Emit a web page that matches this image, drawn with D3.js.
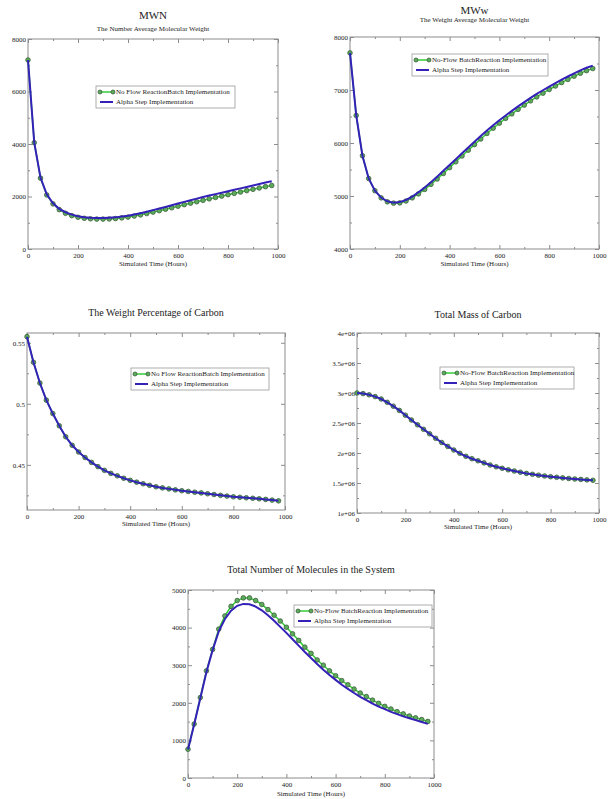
<!DOCTYPE html>
<html lang="">
<head>
  <meta charset="UTF-8">
  <title>Simulated Time plots</title>
  <script src="https://cdnjs.cloudflare.com/ajax/libs/d3/7.8.5/d3.min.js"></script>
<style>
body{
  margin: 0;
  background: #fff;
}
svg text{
  font-family: "Liberation Serif", "DejaVu Serif", serif;
  fill: #222;
}
.marco{
  fill: none;
  stroke: #8c8c8c;
  stroke-width: 1;
}
.batch{
  fill: none;
  stroke: #33cc33;
  stroke-width: 1.5;
}
.alpha{
  fill: none;
  stroke: #3422b8;
  stroke-width: 2;
}
.punto{
  fill: #5aae5a;
  stroke: #3d5a3d;
  stroke-width: 0.8;
}
</style>
</head>
<body>
  <div id="grafico"></div>

  <script>
    // Tiempo simulado (horas)
    var horas = [0, 25, 50, 75, 100, 125, 150, 175, 200, 225, 250, 275, 300, 325, 350, 375, 400, 425, 450, 475,
                 500, 525, 550, 575, 600, 625, 650, 675, 700, 725, 750, 775, 800, 825, 850, 875, 900, 925, 950, 975];

    // MWN
    var mwnBatch = [7200, 4050, 2700, 2060, 1720, 1500, 1360, 1270, 1210, 1170, 1150, 1140, 1140, 1145, 1160, 1185, 1215, 1255, 1300, 1350,
                    1405, 1460, 1515, 1570, 1630, 1690, 1745, 1800, 1855, 1910, 1965, 2015, 2070, 2120, 2170, 2225, 2275, 2325, 2375, 2420];
    var mwnAlpha = [7200, 4050, 2720, 2080, 1740, 1530, 1400, 1310, 1250, 1210, 1190, 1180, 1180, 1190, 1205, 1235, 1270, 1315, 1365, 1420,
                    1480, 1540, 1600, 1665, 1730, 1795, 1860, 1920, 1980, 2035, 2090, 2145, 2200, 2255, 2310, 2365, 2420, 2475, 2530, 2580];

    // MWw
    var mwwBatch = [7700, 6520, 5760, 5330, 5100, 4965, 4890, 4865, 4870, 4905, 4965, 5040, 5125, 5220, 5320, 5425, 5535, 5645, 5755, 5865,
                    5970, 6075, 6180, 6280, 6375, 6465, 6550, 6635, 6715, 6795, 6870, 6940, 7010, 7075, 7140, 7200, 7260, 7315, 7365, 7405];
    var mwwAlpha = [7700, 6520, 5760, 5330, 5100, 4970, 4900, 4875, 4885, 4925, 4990, 5070, 5160, 5260, 5365, 5475, 5585, 5695, 5805, 5915,
                    6025, 6130, 6235, 6335, 6430, 6520, 6605, 6690, 6770, 6850, 6925, 6995, 7065, 7130, 7195, 7255, 7315, 7370, 7420, 7460];

    // Porcentaje en peso del carbono
    var pctBatch = [0.555, 0.534, 0.517, 0.503, 0.492, 0.482, 0.473, 0.466, 0.4605, 0.456, 0.452, 0.4485, 0.4455, 0.443, 0.441, 0.439, 0.4373, 0.4358, 0.4345, 0.4332,
                    0.432, 0.4311, 0.4303, 0.4295, 0.4288, 0.4282, 0.4276, 0.427, 0.4263, 0.4257, 0.425, 0.4244, 0.4238, 0.4234, 0.423, 0.4226, 0.4222, 0.4217, 0.4211, 0.4205];
    var pctAlpha = [0.555, 0.534, 0.517, 0.503, 0.492, 0.482, 0.473, 0.466, 0.4605, 0.456, 0.452, 0.4485, 0.4455, 0.443, 0.441, 0.439, 0.4373, 0.4358, 0.4345, 0.4332,
                    0.432, 0.4311, 0.4303, 0.4295, 0.4288, 0.4282, 0.4276, 0.427, 0.4263, 0.4257, 0.425, 0.4244, 0.4238, 0.4234, 0.423, 0.4226, 0.4222, 0.4217, 0.4211, 0.4205];

    // Masa total de carbono
    var masaBatch = [3.0e6, 2.99e6, 2.97e6, 2.94e6, 2.90e6, 2.845e6, 2.78e6, 2.71e6, 2.63e6, 2.55e6, 2.47e6, 2.395e6, 2.32e6, 2.245e6, 2.175e6, 2.11e6, 2.05e6, 1.995e6, 1.945e6, 1.905e6,
                     1.87e6, 1.835e6, 1.80e6, 1.77e6, 1.745e6, 1.72e6, 1.70e6, 1.68e6, 1.66e6, 1.645e6, 1.63e6, 1.617e6, 1.605e6, 1.595e6, 1.585e6, 1.575e6, 1.567e6, 1.56e6, 1.552e6, 1.545e6];
    var masaAlpha = [3.0e6, 2.99e6, 2.97e6, 2.94e6, 2.90e6, 2.845e6, 2.78e6, 2.71e6, 2.63e6, 2.55e6, 2.47e6, 2.395e6, 2.32e6, 2.245e6, 2.175e6, 2.11e6, 2.05e6, 1.995e6, 1.945e6, 1.905e6,
                     1.87e6, 1.835e6, 1.80e6, 1.77e6, 1.745e6, 1.72e6, 1.70e6, 1.68e6, 1.66e6, 1.645e6, 1.63e6, 1.617e6, 1.605e6, 1.595e6, 1.585e6, 1.575e6, 1.567e6, 1.56e6, 1.552e6, 1.545e6];

    // Numero total de moleculas
    var molBatch = [765, 1435, 2140, 2850, 3420, 3960, 4310, 4565, 4720, 4790, 4790, 4720, 4615, 4480, 4330, 4175, 4010, 3835, 3660, 3480,
                    3315, 3140, 3000, 2850, 2720, 2590, 2480, 2365, 2260, 2165, 2070, 1985, 1905, 1835, 1765, 1705, 1650, 1600, 1555, 1505];
    var molAlpha = [760, 1420, 2120, 2820, 3400, 3900, 4230, 4450, 4580, 4630, 4620, 4560, 4460, 4330, 4180, 4020, 3860, 3690, 3520, 3350,
                    3190, 3030, 2880, 2740, 2610, 2480, 2370, 2260, 2160, 2070, 1980, 1900, 1830, 1760, 1700, 1640, 1590, 1540, 1490, 1440];

    // Textos
    var titulos = ["MWN", "MWw", "The Weight Percentage of Carbon", "Total Mass of Carbon", "Total Number of Molecules in the System"];
    var subtitulos = ["The Number Average Molecular Weight", "The Weight Average Molecular Weight", "", "", ""];
    var leyendaBatch = ["No Flow ReactionBatch Implementation", "No-Flow BatchReaction Implementation",
                        "No Flow ReactionBatch Implementation", "No-Flow BatchReaction Implementation",
                        "No-Flow BatchReaction Implementation"];
    var leyendaAlpha = "Alpha Step Implementation";
    var ejeX = "Simulated Time (Hours)";
    var xTicks = [0, 200, 400, 600, 800, 1000];

    var series = [
      [mwnBatch, mwnAlpha], [mwwBatch, mwwAlpha], [pctBatch, pctAlpha], [masaBatch, masaAlpha], [molBatch, molAlpha]
    ];

    // Posiciones de cada panel
    var paneles = [
      {x0: 28, x1: 278, y0: 39, y1: 249, yDom: [0, 8000], yMay: [0, 2000, 4000, 6000, 8000], yMen: [1000, 3000, 5000, 7000],
       tit: 19, tam: 11, sub: 30.5, ley: [96, 86, 139], ejeY: 17},
      {x0: 350, x1: 599, y0: 37, y1: 249, yDom: [4000, 8000], yMay: [4000, 5000, 6000, 7000, 8000], yMen: [4500, 5500, 6500, 7500],
       tit: 14, tam: 11, sub: 22, ley: [412, 54, 136], ejeY: 17},
      {x0: 27, x1: 285, y0: 333, y1: 510, yDom: [0.413, 0.558], yMay: [0.45, 0.5, 0.55], yMen: [0.425, 0.475, 0.525],
       tit: 315.5, tam: 10, sub: 0, ley: [131, 368, 138], ejeY: 16},
      {x0: 357, x1: 599, y0: 333, y1: 513, yDom: [1e6, 4e6], yMay: [1e6, 1.5e6, 2e6, 2.5e6, 3e6, 3.5e6, 4e6],
       yMen: [1.25e6, 1.75e6, 2.25e6, 2.75e6, 3.25e6, 3.75e6], tit: 317.5, tam: 10, sub: 0, ley: [440, 367, 134], ejeY: 16,
       fmt: function(d){ return (d / 1e6) + "e+06"; }},
      {x0: 188, x1: 434, y0: 590, y1: 778, yDom: [0, 5000], yMay: [0, 1000, 2000, 3000, 4000, 5000], yMen: [500, 1500, 2500, 3500, 4500],
       tit: 573, tam: 10, sub: 0, ley: [294, 605, 138], ejeY: 18}
    ];

    var grafico = d3.select("#grafico")
      .append("svg")
      .attr("width", 608)
      .attr("height", 799);

    paneles.forEach(function(p, i){
      var g = grafico.append("g");

      var xScale = d3.scaleLinear().domain([0, 1000]).range([p.x0, p.x1]);
      var yScale = d3.scaleLinear().domain(p.yDom).range([p.y1, p.y0]);
      var fmt = p.fmt || function(d){ return String(d); };

      // Titulos
      var cx = (p.x0 + p.x1) / 2;
      g.append("text").attr("x", cx).attr("y", p.tit).attr("text-anchor", "middle")
        .style("font-size", p.tam + "px").text(titulos[i]);
      if (subtitulos[i]) {
        g.append("text").attr("x", cx).attr("y", p.sub).attr("text-anchor", "middle")
          .style("font-size", "7px").text(subtitulos[i]);
      }

      // Ejes con marcas hacia dentro
      function ejes(axis, scale, valores, tam, etiquetas, transform){
        var eje = g.append("g").attr("transform", transform)
          .call(axis(scale).tickValues(valores).tickSize(-tam).tickPadding(etiquetas ? 3 : 0)
            .tickFormat(etiquetas ? etiquetas : function(){ return ""; }));
        eje.select(".domain").remove();
        eje.selectAll("line").attr("stroke", "#8c8c8c");
        eje.selectAll("text").style("font-size", "7px").style("font-family", "'Liberation Serif', serif").attr("fill", "#333");
        return eje;
      }
      var xMen = [100, 300, 500, 700, 900];
      var abajo = ejes(d3.axisBottom, xScale, xTicks, 4, function(d){ return d; }, "translate(0," + p.y1 + ")");
      abajo.selectAll("text").attr("y", 4);
      ejes(d3.axisBottom, xScale, xMen, 2, null, "translate(0," + p.y1 + ")");
      ejes(d3.axisTop, xScale, xTicks, 4, null, "translate(0," + p.y0 + ")");
      ejes(d3.axisTop, xScale, xMen, 2, null, "translate(0," + p.y0 + ")");
      ejes(d3.axisLeft, yScale, p.yMay, 4, fmt, "translate(" + p.x0 + ",0)").selectAll("text").attr("x", -2);
      ejes(d3.axisLeft, yScale, p.yMen, 2, null, "translate(" + p.x0 + ",0)");
      ejes(d3.axisRight, yScale, p.yMay, 4, null, "translate(" + p.x1 + ",0)");
      ejes(d3.axisRight, yScale, p.yMen, 2, null, "translate(" + p.x1 + ",0)");

      g.append("rect").attr("class", "marco")
        .attr("x", p.x0).attr("y", p.y0)
        .attr("width", p.x1 - p.x0).attr("height", p.y1 - p.y0);

      g.append("text").attr("x", cx).attr("y", p.y1 + p.ejeY).attr("text-anchor", "middle")
        .style("font-size", "7px").text(ejeX);

      // Lineas
      var line = d3.line()
        .x(function(d, j){ return xScale(horas[j]); })
        .y(function(d){ return yScale(d); });

      g.append("path").datum(series[i][0]).attr("class", "batch").attr("d", line);
      g.selectAll(".punto").data(series[i][0]).enter().append("circle")
        .attr("class", "punto")
        .attr("cx", function(d, j){ return xScale(horas[j]); })
        .attr("cy", function(d){ return yScale(d); })
        .attr("r", 2.3);
      g.append("path").datum(series[i][1]).attr("class", "alpha").attr("d", line);

      // Leyenda
      var lx = p.ley[0], ly = p.ley[1], lw = p.ley[2];
      var ley = g.append("g").attr("transform", "translate(" + lx + "," + ly + ")");
      ley.append("rect").attr("width", lw).attr("height", 22)
        .attr("fill", "#fff").attr("stroke", "#999").attr("stroke-width", 0.8);
      ley.append("line").attr("class", "batch").attr("x1", 4).attr("x2", 17).attr("y1", 6).attr("y2", 6);
      ley.selectAll(".punto").data([4, 17]).enter().append("circle").attr("class", "punto")
        .attr("cx", function(d){ return d; }).attr("cy", 6).attr("r", 2);
      ley.append("text").attr("x", 20).attr("y", 8.3).style("font-size", "7px").text(leyendaBatch[i]);
      ley.append("line").attr("class", "alpha").attr("x1", 4).attr("x2", 17).attr("y1", 16).attr("y2", 16);
      ley.append("text").attr("x", 20).attr("y", 18.3).style("font-size", "7px").text(leyendaAlpha);
    });
  </script>
</body>
</html>
